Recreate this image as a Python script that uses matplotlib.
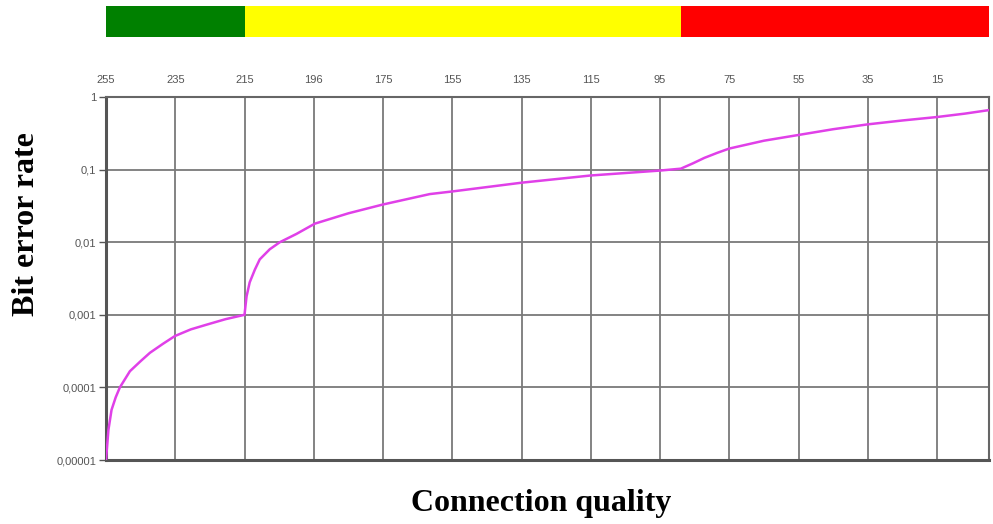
import matplotlib
matplotlib.use("Agg")
import matplotlib.pyplot as plt
from matplotlib.ticker import FixedLocator, FixedFormatter

# connection quality (x) and bit error rate (y)
quality = [255, 254.3, 253.4, 252.2, 251, 248.1, 245, 242.3, 238.5, 235.1,
           230.5, 226, 220.5, 215,
           214.7, 214.4, 213.5, 212, 210.6, 207.7, 204.8, 200, 194.7,
           185, 175.1, 161.5, 155, 135, 115, 95, 89,
           85.5, 82.2, 78.5, 75, 65, 55, 45, 35, 25, 15, 7, 0]
ber = [1e-5, 2.6e-5, 4.9e-5, 7.3e-5, 1e-4, 1.67e-4, 2.3e-4, 3e-4, 4e-4, 5.1e-4,
       6.3e-4, 7.3e-4, 8.7e-4, 1e-3,
       1.35e-3, 1.8e-3, 2.8e-3, 4.2e-3, 5.8e-3, 8e-3, 1e-2, 1.3e-2, 1.8e-2,
       2.5e-2, 3.3e-2, 4.6e-2, 0.05, 0.066, 0.083, 0.097, 0.103,
       0.122, 0.145, 0.17, 0.195, 0.25, 0.30, 0.36, 0.42, 0.475, 0.53, 0.59, 0.66]

tick_pos = [255, 235, 215, 195, 175, 155, 135, 115, 95, 75, 55, 35, 15]
tick_labels = ["255", "235", "215", "196", "175", "155", "135", "115",
               "95", "75", "55", "35", "15"]
y_ticks = [1e-5, 1e-4, 1e-3, 1e-2, 1e-1, 1]
y_labels = ["0,00001", "0,0001", "0,001", "0,01", "0,1", "1"]

# quality zones for the colour band: (start, end, colour)
zone_start = [255, 215, 89]
zone_end = [215, 89, 0]
zone_colors = ["#008000", "#ffff00", "#ff0000"]

fig = plt.figure(figsize=(9.93, 5.24), dpi=100)

ax = fig.add_axes([106 / 993, 1 - 460 / 524, 883 / 993, 363 / 524])
ax.plot(quality, ber, color="#e040e8", lw=1.8, zorder=3)
ax.set_yscale("log")
ax.set_xlim(255, 0)
ax.set_ylim(1e-5, 1)

ax.xaxis.tick_top()
ax.xaxis.set_major_locator(FixedLocator(tick_pos))
ax.xaxis.set_major_formatter(FixedFormatter(tick_labels))
ax.yaxis.set_major_locator(FixedLocator(y_ticks))
ax.yaxis.set_major_formatter(FixedFormatter(y_labels))
ax.yaxis.set_minor_locator(FixedLocator([]))
ax.tick_params(axis="x", length=0, pad=9, labelsize=8, labelcolor="#555555")
ax.tick_params(axis="y", length=5, width=1, color="#555555", pad=2,
               labelsize=8, labelcolor="#555555")
for lab in ax.get_xticklabels() + ax.get_yticklabels():
    lab.set_family("Liberation Sans")

ax.grid(True, color="#7a7a7a", lw=1.3)
for side in ["left", "bottom"]:
    ax.spines[side].set_linewidth(2.2)
    ax.spines[side].set_color("#555555")
for side in ["top", "right"]:
    ax.spines[side].set_linewidth(1.5)
    ax.spines[side].set_color("#666666")

fig.text(541 / 993, 1 - 503 / 524, "Connection quality", ha="center", va="center",
         family="Liberation Serif", weight="bold", fontsize=23)
fig.text(27 / 993, 1 - 224 / 524, "Bit error rate", ha="center", va="center",
         rotation=90, family="Liberation Serif", weight="bold", fontsize=23)

band = fig.add_axes([106 / 993, 1 - 37 / 524, 883 / 993, 31 / 524])
band.barh(0, [e - s for s, e in zip(zone_start, zone_end)], left=zone_start,
          color=zone_colors, height=1)
band.set_xlim(255, 0)
band.set_ylim(-0.5, 0.5)
band.axis("off")

fig.savefig("out.png", dpi=100)
